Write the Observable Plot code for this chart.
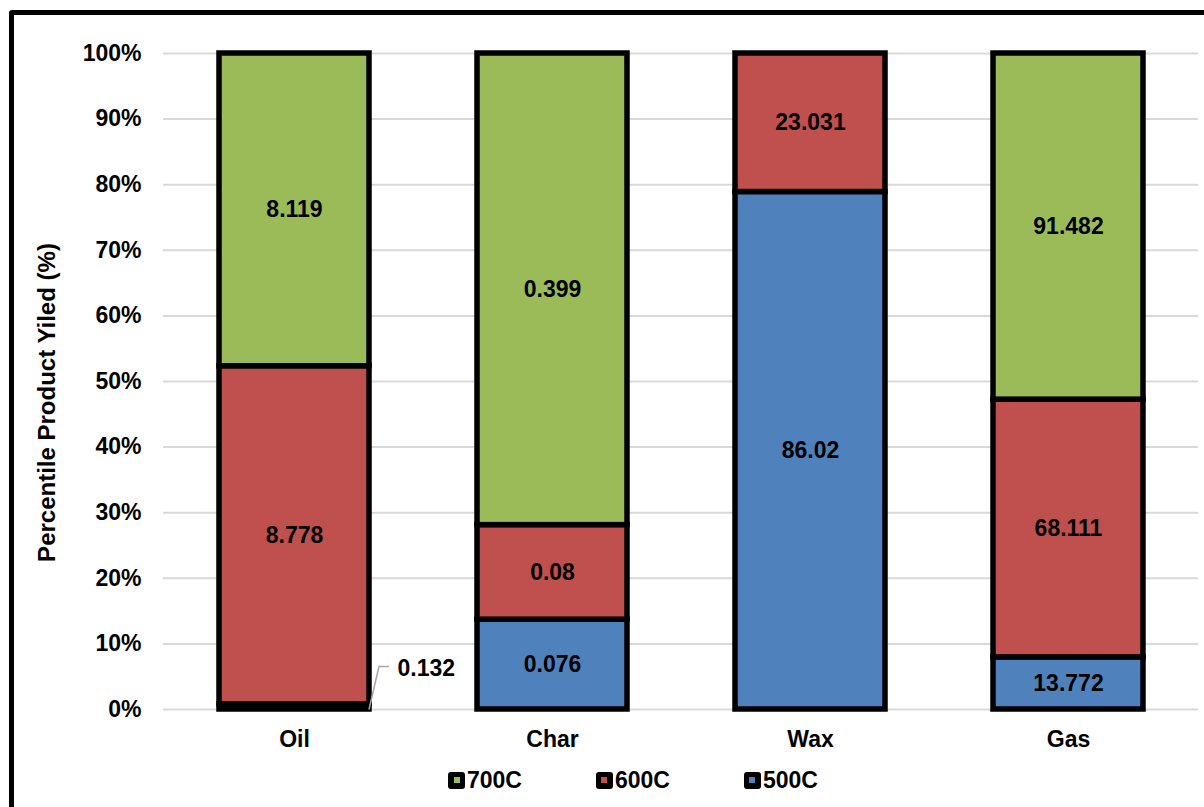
<!DOCTYPE html>
<html>
<head>
<meta charset="utf-8">
<script src="https://cdn.jsdelivr.net/npm/d3@7"></script>
<script src="https://cdn.jsdelivr.net/npm/@observablehq/plot@0.6"></script>
<style>
  html, body { margin: 0; padding: 0; background: #fff; width: 1204px; height: 807px; overflow: hidden; }
  #chart { position: absolute; left: 0; top: 0; }
  #frame { position: absolute; left: 9px; top: 10px; width: 1240px; height: 840px; border: 5px solid #000; border-radius: 3px; box-sizing: border-box; pointer-events: none; z-index: 5; }
  #legend { position: absolute; left: 448px; top: 768px; display: flex; gap: 74px; font-family: "Liberation Sans", Arial, sans-serif; font-size: 23px; font-weight: bold; color: #000; }
  .item { display: flex; align-items: center; gap: 2px; line-height: 24px; }
  .swatch { width: 17px; height: 17px; background: #000; border-radius: 3px; display: flex; align-items: center; justify-content: center; }
  .swatch span { width: 6px; height: 6px; display: block; }
</style>
</head>
<body>
<div id="chart"></div>
<div id="legend"></div>
<div id="frame"></div>
<script>
// Product categories and pyrolysis temperatures
const categories = ["Oil", "Char", "Wax", "Gas"];
const series = ["500C", "600C", "700C"];
const seriesColors = ["#4F81BD", "#C0504D", "#9BBB59"];
const legendOrder = ["700C", "600C", "500C"];

// Yields per temperature, one value per category (null = no segment)
const yield500 = [0.132, 0.076, 86.02, 13.772];
const yield600 = [8.778, 0.08, 23.031, 68.111];
const yield700 = [8.119, 0.399, null, 91.482];

// Y axis ticks (fraction of the stack)
const yTicks = [0, 0.1, 0.2, 0.3, 0.4, 0.5, 0.6, 0.7, 0.8, 0.9, 1];
const yTitle = "Percentile Product Yiled (%)";

// Segments whose label sits outside the bar with a leader line
const callouts = [{category: "Oil", series: "500C"}];

const seriesValues = [yield500, yield600, yield700];
const table = [];
series.forEach((s, i) => {
  seriesValues[i].forEach((v, j) => {
    if (v != null) table.push({category: categories[j], series: s, value: v});
  });
});
const isCallout = d => callouts.some(c => c.category === d.category && c.series === d.series);

const font = "'Liberation Sans', Arial, sans-serif";
const fs = 23;

const stackOpts = {x: "category", y: "value", z: "series"};

const marks = [
  Plot.gridY(yTicks, {stroke: "#D9D9D9", strokeOpacity: 1, strokeWidth: 2}),
  Plot.barY(table, Plot.stackY({offset: "normalize"}, {
    ...stackOpts, fill: "series", stroke: "#000", strokeWidth: 5.5
  })),
  Plot.text(table, Plot.stackY({offset: "normalize"}, {
    ...stackOpts, text: d => isCallout(d) ? "" : String(d.value),
    fill: "#000", fontSize: fs, fontWeight: "bold"
  })),
  // outside label for thin segments
  Plot.text(table, Plot.stackY({offset: "normalize"}, {
    ...stackOpts, text: d => isCallout(d) ? String(d.value) : "",
    fill: "#000", fontSize: fs, fontWeight: "bold", textAnchor: "start", dx: 103, dy: -38
  })),
  Plot.axisY(yTicks, {tickFormat: d => Math.round(d * 100) + "%", tickSize: 0, tickPadding: 22,
    fontSize: fs, fontWeight: "bold", label: null}),
  Plot.axisX({tickSize: 0, tickPadding: 21, fontSize: fs, fontWeight: "bold", label: null}),
  Plot.text([yTitle], {frameAnchor: "left", textAnchor: "middle", rotate: -90, dx: -116, dy: 21,
    fontSize: 24, fontWeight: "bold", fill: "#000"})
];

const plot = Plot.plot({
  width: 1204,
  height: 760,
  marginLeft: 163,
  marginRight: 6,
  marginTop: 53,
  marginBottom: 51,
  style: {fontFamily: font, color: "#000", background: "transparent", overflow: "visible"},
  x: {domain: categories, paddingInner: 0.42, paddingOuter: 0.21},
  y: {domain: [0, 1]},
  color: {domain: series, range: seriesColors},
  marks
});
document.getElementById("chart").appendChild(plot);

// Leader lines for outside labels, positioned with the plot's scales
const sx = plot.scale("x");
const sy = plot.scale("y");
const svg = d3.select(plot);
callouts.forEach(c => {
  const rows = table.filter(d => d.category === c.category);
  const total = d3.sum(rows, d => d.value);
  let below = 0;
  for (const r of rows) { if (r.series === c.series) break; below += r.value; }
  const row = rows.find(r => r.series === c.series);
  const mid = (below + row.value / 2) / total;
  const xr = sx.apply(c.category) + sx.bandwidth;
  const y0 = sy.apply(mid);
  svg.append("path")
    .attr("d", d3.line()([[xr, y0 + 3], [xr + 10, y0 - 40], [xr + 20, y0 - 40]]))
    .attr("fill", "none")
    .attr("stroke", "#A6A6A6")
    .attr("stroke-width", 1.5);
});

// Legend
const legend = d3.select("#legend");
legendOrder.forEach(s => {
  const item = legend.append("div").attr("class", "item");
  item.append("div").attr("class", "swatch")
    .append("span").style("background", seriesColors[series.indexOf(s)]);
  item.append("span").text(s);
});
</script>
</body>
</html>
